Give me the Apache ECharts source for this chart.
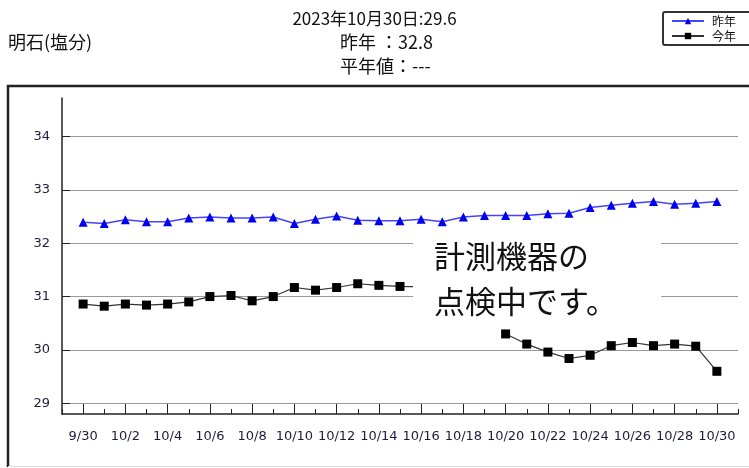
<!DOCTYPE html>
<html>
<head>
<meta charset="utf-8">
<script src="https://cdn.jsdelivr.net/npm/echarts@6/dist/echarts.min.js"></script>
<style>
  html, body { margin: 0; padding: 0; background: #fff; }
  #chart { width: 749px; height: 468px; }
</style>
</head>
<body>
<div id="chart"></div>
<script>
// 9/30 - 10/30
const dates = ['9/30', '10/1', '10/2', '10/3', '10/4', '10/5', '10/6', '10/7', '10/8', '10/9',
  '10/10', '10/11', '10/12', '10/13', '10/14', '10/15', '10/16', '10/17', '10/18', '10/19',
  '10/20', '10/21', '10/22', '10/23', '10/24', '10/25', '10/26', '10/27', '10/28', '10/29', '10/30']
const lastYear = [32.39, 32.37, 32.44, 32.40, 32.40, 32.47, 32.49, 32.47, 32.47, 32.49,
  32.37, 32.45, 32.51, 32.43, 32.42, 32.42, 32.45, 32.40, 32.49, 32.52,
  32.52, 32.52, 32.55, 32.56, 32.67, 32.71, 32.75, 32.78, 32.73, 32.75, 32.78]
const thisYear = [30.86, 30.82, 30.86, 30.84, 30.86, 30.90, 31.00, 31.02, 30.92, 31.00,
  31.17, 31.12, 31.17, 31.24, 31.21, 31.19, 31.18, null, null, null,
  30.30, 30.11, 29.96, 29.84, 29.90, 30.08, 30.14, 30.08, 30.11, 30.07, 29.60]
const yTicks = [29, 30, 31, 32, 33, 34]

const labelColor = '#1c1c3c'
const jp = '"Noto Sans CJK JP", sans-serif'

const toPairs = arr => arr.map((v, i) => [i, v == null ? '-' : v])
const allIdx = []
for (let i = -1; i <= dates.length; i++) allIdx.push(i)
const evenIdx = dates.map((d, i) => i).filter(i => i % 2 === 0)

const chart = echarts.init(document.getElementById('chart'), null, { renderer: 'canvas' })

const titleStyle = size => ({ fontSize: size, fontWeight: 'normal', color: '#111', fontFamily: jp })

const option = {
  animation: false,
  backgroundColor: '#fff',
  textStyle: { fontFamily: jp },
  title: [
    { text: '明石(塩分)', left: 8, top: 33, padding: 0, textStyle: titleStyle(18) },
    { text: '2023年10月30日:29.6', left: 'center', top: 10, padding: 0, textStyle: titleStyle(17) },
    { text: '昨年 ：32.8', left: 340, top: 33, padding: 0, textStyle: titleStyle(18) },
    { text: '平年値：---', left: 340, top: 57, padding: 0, textStyle: titleStyle(18) }
  ],
  legend: {
    data: ['昨年', '今年'],
    orient: 'vertical',
    left: 663,
    top: 12,
    padding: [3, 20, 3, 8],
    itemWidth: 32,
    itemHeight: 8,
    itemGap: 3,
    borderColor: '#333',
    borderWidth: 2,
    borderRadius: 2,
    textStyle: { fontSize: 12, color: '#111', fontFamily: jp, padding: [0, 0, 0, 3] }
  },
  grid: { left: 62, right: 11, top: 98, bottom: 54 },
  xAxis: [
    {
      type: 'value',
      min: -1,
      max: dates.length,
      axisLine: { onZero: false, lineStyle: { color: '#222', width: 1.5 } },
      axisTick: { inside: true, length: 5, customValues: allIdx, lineStyle: { color: '#222' } },
      axisLabel: { show: false },
      splitLine: { show: false }
    },
    {
      type: 'value',
      position: 'bottom',
      min: -1,
      max: dates.length,
      axisLine: { show: false, onZero: false },
      axisTick: { inside: true, length: 10, customValues: evenIdx, lineStyle: { color: '#222' } },
      axisLabel: {
        customValues: evenIdx,
        margin: 16,
        fontSize: 13,
        color: labelColor,
        fontFamily: '"DejaVu Sans", Verdana, sans-serif',
        formatter: v => dates[v]
      },
      splitLine: { show: false }
    }
  ],
  yAxis: {
    type: 'value',
    min: 28.8,
    max: 34.72,
    axisLine: { show: true, onZero: false, lineStyle: { color: '#222', width: 1.5 } },
    axisTick: { show: true, inside: true, length: 8, customValues: yTicks, lineStyle: { color: '#222' } },
    axisLabel: {
      customValues: yTicks,
      margin: 12,
      fontSize: 13,
      color: labelColor,
      fontFamily: '"DejaVu Sans", Verdana, sans-serif'
    },
    splitLine: { show: true, lineStyle: { color: '#999', width: 1 } }
  },
  series: [
    {
      name: '昨年',
      type: 'line',
      xAxisIndex: 0,
      data: toPairs(lastYear),
      symbol: 'triangle',
      symbolSize: 9,
      lineStyle: { color: '#4444ff', width: 1.5 },
      itemStyle: { color: '#0000ee' }
    },
    {
      name: '今年',
      type: 'line',
      xAxisIndex: 0,
      data: toPairs(thisYear),
      connectNulls: false,
      symbol: 'rect',
      symbolSize: 9,
      lineStyle: { color: '#333', width: 1.2 },
      itemStyle: { color: '#000' }
    }
  ],
  graphic: [
    // outer frame
    { type: 'polyline', z: 50, shape: { points: [[8, 467], [8, 86], [760, 86]] }, style: { stroke: '#222', lineWidth: 2.5, fill: null } },
    { type: 'line', z: 50, shape: { x1: 8, y1: 466.5, x2: 760, y2: 466.5 }, style: { stroke: '#ddd', lineWidth: 1 } },
    // maintenance notice
    { type: 'rect', z: 100, shape: { x: 413, y: 230, width: 248, height: 96 }, style: { fill: '#fff' } },
    {
      type: 'text', z: 101, x: 434, y: 234,
      style: {
        text: '計測機器の\n点検中です。',
        font: '31px "Noto Sans CJK JP"',
        lineHeight: 45,
        fill: '#111'
      }
    }
  ]
}

chart.setOption(option)
</script>
</body>
</html>
